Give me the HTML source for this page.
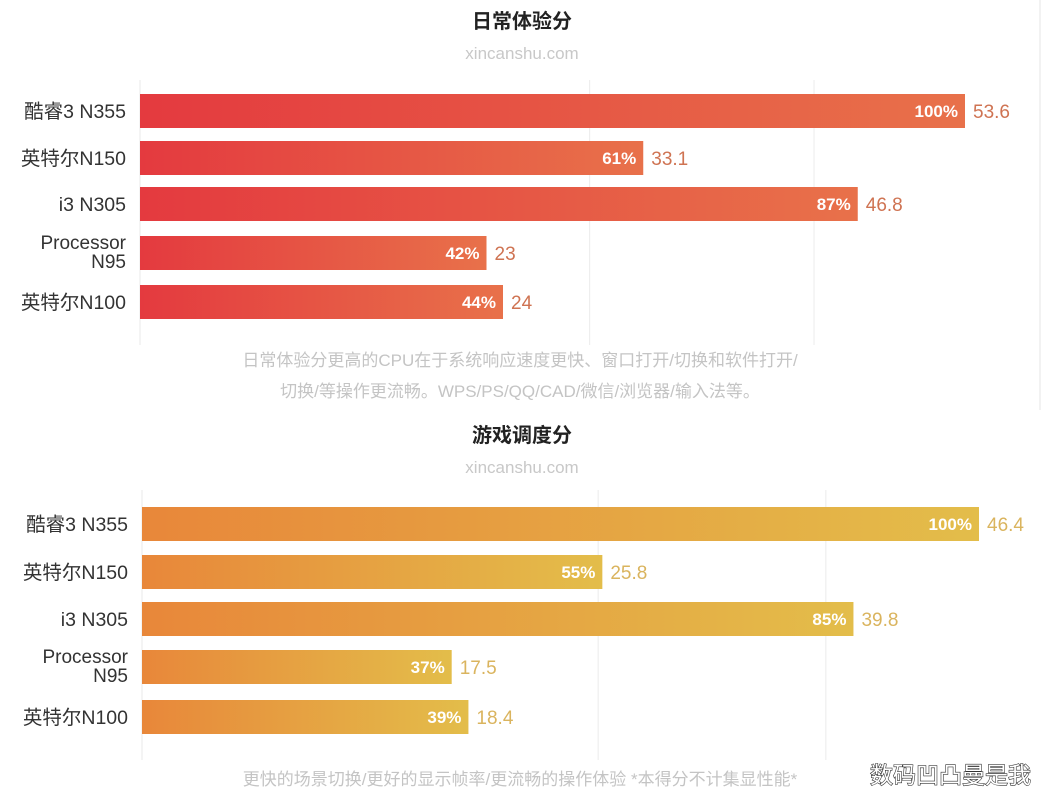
<!DOCTYPE html>
<html><head><meta charset="utf-8"><style>
body{margin:0;background:#fff;}
svg{display:block;font-family:"Liberation Sans","Noto Sans CJK SC",sans-serif;}
</style></head><body>
<svg id="c" width="1044" height="803" viewBox="0 0 1044 803" xmlns="http://www.w3.org/2000/svg">
<defs>
<linearGradient id="gRed" x1="0" x2="1" y1="0" y2="0"><stop offset="0" stop-color="#e43a3f"/><stop offset="1" stop-color="#e8714a"/></linearGradient>
<linearGradient id="gOr" x1="0" x2="1" y1="0" y2="0"><stop offset="0" stop-color="#e8873a"/><stop offset="1" stop-color="#e3bd4a"/></linearGradient>
</defs>
<line x1="1040" y1="0" x2="1040" y2="410" stroke="#e6e6e6"/>
</svg>
<script>
const categories=["酷睿3 N355","英特尔N150","i3 N305","Processor N95","英特尔N100"];
const dailyScores=[53.6,33.1,46.8,23,24];
const dailyPct=[100,61,87,42,44];
const gameScores=[46.4,25.8,39.8,17.5,18.4];
const gamePct=[100,55,85,37,39];
const gridPct=[54.5,81.7];
const NS="http://www.w3.org/2000/svg";
const svg=document.getElementById('c');
function mk(tag,attrs,txt){const e=document.createElementNS(NS,tag);for(const k in attrs)e.setAttribute(k,attrs[k]);if(txt!==undefined)e.textContent=txt;svg.appendChild(e);return e;}
function chart(o){
  const xs=p=>o.x0+p/100*o.w;
  let t=mk('text',{x:522,y:o.titleY,'text-anchor':'middle','font-size':20,'font-weight':'bold',fill:'#222'},o.title);
  
  
  t=mk('text',{x:522,y:o.titleY+31,'text-anchor':'middle','font-size':17,fill:'#c8c8c8'},'xincanshu.com');
  
  
  let l=mk('line',{x1:o.x0,x2:o.x0,y1:o.gTop,y2:o.gBot,stroke:'#e8e8e8'});
  
  
  gridPct.forEach(g=>{const gl=mk('line',{x1:xs(g),x2:xs(g),y1:o.gTop,y2:o.gBot,stroke:'#ececec'});
    
    });
  categories.forEach((c,i)=>{
    const y=o.rows[i];
    const r=mk('rect',{x:o.x0,y:y-17,width:xs(o.pct[i])-o.x0,height:34,fill:o.fill});
    
    
    if(c==="Processor N95"){
      const tx=mk('text',{x:o.x0-14,y:y-4,'text-anchor':'end','font-size':19,fill:'#333'});
      
      
      const a=document.createElementNS(NS,'tspan');a.textContent='Processor';a.setAttribute('x',o.x0-14);tx.appendChild(a);
      const b=document.createElementNS(NS,'tspan');b.textContent='N95';b.setAttribute('x',o.x0-14);b.setAttribute('dy','19');tx.appendChild(b);
    } else {
      const tx=mk('text',{x:o.x0-14,y:y+7,'text-anchor':'end','font-size':19.5,fill:'#333'},c);
      
      
    }
    const p=mk('text',{x:xs(o.pct[i])-7,y:y+6,'text-anchor':'end','font-size':17,'font-weight':'bold',fill:'#fff'},o.pct[i]+'%');
    
    
    const v=mk('text',{x:xs(o.pct[i])+8,y:y+7,'font-size':19,fill:o.valColor},String(o.vals[i]));
    
    
  });
  o.notes.forEach((n,k)=>{const f=mk('text',{x:520,y:o.noteY+k*31,'text-anchor':'middle','font-size':17,fill:'#c4c4c4'},n);
    
    });
}
chart({key:'daily',title:'日常体验分',titleY:28,x0:140,w:825,gTop:80,gBot:345,rows:[111,158,204,253,302],pct:dailyPct,vals:dailyScores,fill:'url(#gRed)',valColor:'#cf7352',
  notes:['日常体验分更高的CPU在于系统响应速度更快、窗口打开/切换和软件打开/','切换/等操作更流畅。WPS/PS/QQ/CAD/微信/浏览器/输入法等。'],noteY:366});
chart({key:'game',title:'游戏调度分',titleY:442,x0:142,w:837,gTop:490,gBot:760,rows:[524,572,619,667,717],pct:gamePct,vals:gameScores,fill:'url(#gOr)',valColor:'#dab45e',
  notes:['更快的场景切换/更好的显示帧率/更流畅的操作体验 *本得分不计集显性能*'],noteY:785});
const wm=mk('text',{x:1031,y:783,'text-anchor':'end','font-size':23,fill:'#fff',stroke:'#333','stroke-width':1.2,'paint-order':'stroke'},'数码凹凸曼是我');


</script>
</body></html>
